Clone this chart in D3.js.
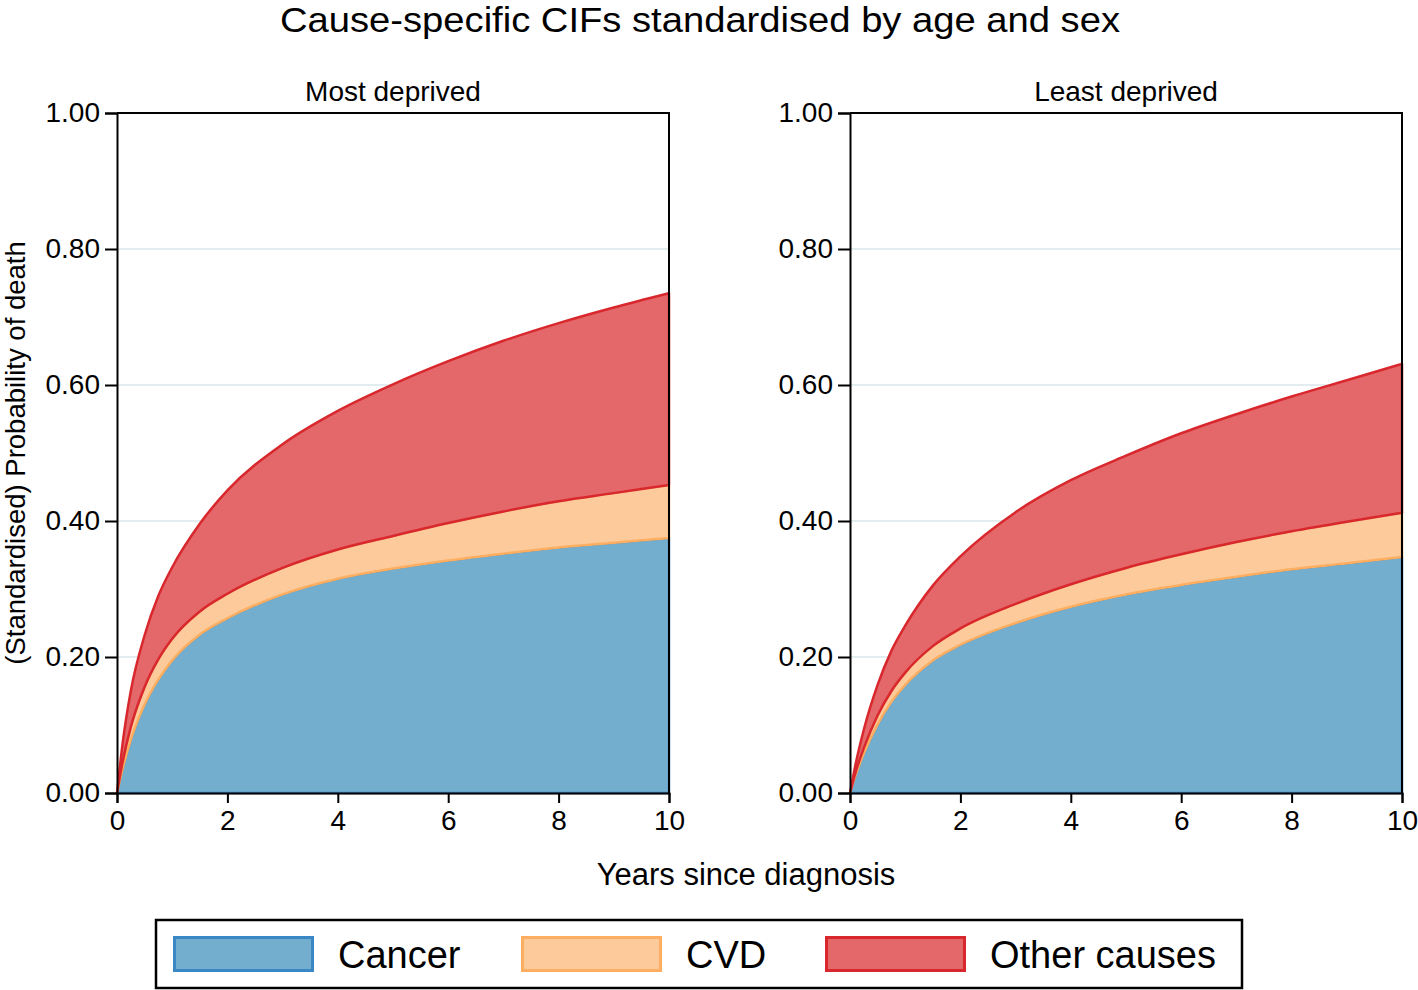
<!DOCTYPE html>
<html>
<head>
<meta charset="utf-8">
<script src="https://cdn.jsdelivr.net/npm/d3@7"></script>
<style>
  body { margin: 0; background: #fff; }
  text { font-family: "Liberation Sans", Arial, sans-serif; fill: #000; }
</style>
</head>
<body>
<svg width="1418" height="990"></svg>
<script>
// years since diagnosis (shared x values)
const years = [0, 0.1, 0.25, 0.5, 0.75, 1, 1.5, 2, 3, 4, 5, 6, 7, 8, 9, 10]

// cause-specific CIFs, most deprived
const mostCancer = [0, 0.035, 0.078, 0.13, 0.167, 0.195, 0.233, 0.257, 0.292, 0.315, 0.33, 0.342, 0.352, 0.361, 0.368, 0.375]
const mostCvd    = [0, 0.01, 0.019, 0.026, 0.03, 0.032, 0.034, 0.036, 0.039, 0.043, 0.048, 0.055, 0.062, 0.068, 0.073, 0.078]
const mostOther  = [0, 0.027, 0.053, 0.076, 0.093, 0.105, 0.129, 0.152, 0.182, 0.204, 0.223, 0.238, 0.251, 0.262, 0.273, 0.282]

// cause-specific CIFs, least deprived
const leastCancer = [0, 0.026, 0.058, 0.101, 0.134, 0.159, 0.195, 0.218, 0.25, 0.274, 0.292, 0.306, 0.318, 0.329, 0.338, 0.347]
const leastCvd    = [0, 0.004, 0.008, 0.013, 0.016, 0.018, 0.021, 0.024, 0.028, 0.033, 0.039, 0.045, 0.051, 0.056, 0.061, 0.065]
const leastOther  = [0, 0.012, 0.027, 0.045, 0.059, 0.069, 0.089, 0.106, 0.135, 0.153, 0.165, 0.178, 0.188, 0.198, 0.208, 0.219]

const causes = ['cancer', 'cvd', 'other']
const causeLabels = ['Cancer', 'CVD', 'Other causes']
const fills = ['#74aece', '#fdcb9b', '#e4676a']
const strokes = ['#3a87c5', '#fdae61', '#d8282d']
const xTicks = [0, 2, 4, 6, 8, 10]
const yTicks = [0, 0.2, 0.4, 0.6, 0.8, 1]

const svg = d3.select('svg')

const plotTop = 113, plotBottom = 793
const panelW = 552

svg.append('text')
   .attr('x', 700).attr('y', 32)
   .attr('text-anchor', 'middle')
   .attr('textLength', 840)
   .attr('lengthAdjust', 'spacingAndGlyphs')
   .style('font-size', '35px')
   .text('Cause-specific CIFs standardised by age and sex')

const drawPanel = (left, title, cancer, cvd, other) => {
    const rows = years.map((t, i) => ({year: t, cancer: cancer[i], cvd: cvd[i], other: other[i]}))
    const series = d3.stack().keys(causes)(rows)

    const xscale = d3.scaleLinear().domain([0, 10]).range([left, left + panelW])
    const yscale = d3.scaleLinear().domain([0, 1]).range([plotBottom, plotTop])

    const g = svg.append('g')

    // grid
    g.selectAll('.grid').data(yTicks.filter(d => d > 0 && d < 1)).join('line')
     .attr('x1', xscale(0)).attr('x2', xscale(10))
     .attr('y1', d => yscale(d)).attr('y2', d => yscale(d))
     .attr('stroke', '#e3ecef').attr('stroke-width', 2)

    const area = d3.area()
                   .x(d => xscale(d.data.year))
                   .y0(d => yscale(d[0]))
                   .y1(d => yscale(d[1]))
                   .curve(d3.curveMonotoneX)

    g.selectAll('.band').data(series).join('path')
     .attr('d', area)
     .attr('fill', (d, i) => fills[i])
     .attr('stroke', (d, i) => strokes[i])
     .attr('stroke-width', 2.5)
     .attr('stroke-linejoin', 'round')

    // frame top and right
    g.append('path')
     .attr('d', `M${xscale(0)},${yscale(1)}H${xscale(10)}V${yscale(0)}`)
     .attr('fill', 'none').attr('stroke', '#000').attr('stroke-width', 2)

    const yaxis = g.append('g')
                   .attr('transform', `translate(${xscale(0)},0)`)
                   .call(d3.axisLeft(yscale).tickValues(yTicks).tickFormat(d3.format('.2f')).tickSize(12).tickPadding(5))
    const xaxis = g.append('g')
                   .attr('transform', `translate(0,${yscale(0)})`)
                   .call(d3.axisBottom(xscale).tickValues(xTicks).tickSize(10).tickPadding(7))
    for (const ax of [yaxis, xaxis]) {
        ax.select('.domain').attr('stroke-width', 2)
        ax.selectAll('.tick line').attr('stroke-width', 2)
        ax.selectAll('.tick text').style('font-size', '28px').attr('fill', '#000')
    }

    g.append('text')
     .attr('x', left + panelW / 2).attr('y', 101)
     .attr('text-anchor', 'middle')
     .style('font-size', '28px')
     .text(title)
}

drawPanel(117, 'Most deprived', mostCancer, mostCvd, mostOther)
drawPanel(850, 'Least deprived', leastCancer, leastCvd, leastOther)

svg.append('text')
   .attr('x', 746).attr('y', 885)
   .attr('text-anchor', 'middle')
   .style('font-size', '31px')
   .text('Years since diagnosis')

svg.append('text')
   .attr('transform', 'translate(25,453) rotate(-90)')
   .attr('text-anchor', 'middle')
   .style('font-size', '27.5px')
   .text('(Standardised) Probability of death')

// legend
const legend = svg.append('g')
legend.append('rect')
      .attr('x', 156).attr('y', 920).attr('width', 1086).attr('height', 68)
      .attr('fill', '#fff').attr('stroke', '#000').attr('stroke-width', 2.5)
const swatchX = [173, 521, 825]
legend.selectAll('.sw').data(causes).join('rect')
      .attr('x', (d, i) => swatchX[i] + 1.5).attr('y', 937.5)
      .attr('width', 138).attr('height', 33)
      .attr('fill', (d, i) => fills[i])
      .attr('stroke', (d, i) => strokes[i]).attr('stroke-width', 3)
legend.selectAll('.lab').data(causeLabels).join('text')
      .attr('x', (d, i) => swatchX[i] + 165).attr('y', 968)
      .style('font-size', '38px')
      .text(d => d)
</script>
</body>
</html>
